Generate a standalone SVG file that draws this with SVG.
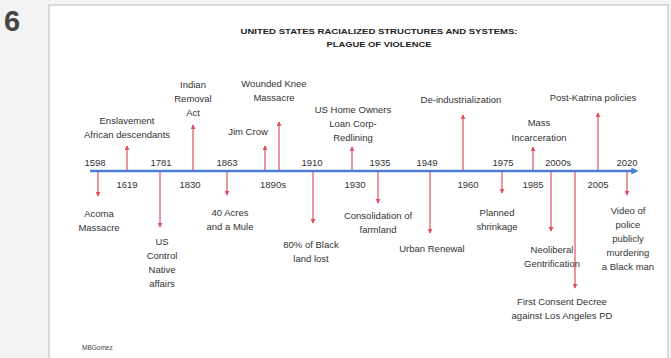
<svg xmlns="http://www.w3.org/2000/svg" width="671" height="358" viewBox="0 0 671 358">
<style>
.t{font-family:"Liberation Sans",Arial,sans-serif;font-size:9.5px;fill:#333;text-anchor:middle}
.y{font-family:"Liberation Sans",Arial,sans-serif;font-size:9.5px;fill:#333;text-anchor:middle}
.h{font-family:"Liberation Sans",Arial,sans-serif;font-size:8px;font-weight:bold;fill:#222;text-anchor:middle}
.r{stroke:#e0505f;stroke-width:1.2;fill:none;marker-end:url(#ra)}
</style>
<defs>
<marker id="ra" viewBox="0 0 6 6" refX="5" refY="3" markerWidth="5" markerHeight="5" orient="auto" markerUnits="userSpaceOnUse"><path d="M0,0 L6,3 L0,6 z" fill="#e0505f"/></marker>
<marker id="ba" viewBox="0 0 6 6" refX="4" refY="3" markerWidth="7" markerHeight="7" orient="auto" markerUnits="userSpaceOnUse"><path d="M0,0 L6,3 L0,6 z" fill="#4a7fd4"/></marker>
</defs>
<rect width="671" height="358" fill="#f3f3f3"/>
<rect x="49" y="5" width="619" height="360" fill="#ffffff" stroke="#cfcfcf" stroke-width="1.5"/>
<text x="4" y="31" font-family="Liberation Sans,Arial,sans-serif" font-size="29" font-weight="bold" fill="#444">6</text>
<g id="title">
<text class="h" x="379" y="34" textLength="277" lengthAdjust="spacingAndGlyphs">UNITED STATES RACIALIZED STRUCTURES AND SYSTEMS:</text>
<text class="h" x="379" y="47" textLength="105" lengthAdjust="spacingAndGlyphs">PLAGUE OF VIOLENCE</text>
</g>
<g id="connectors">
<line x1="90" y1="171" x2="636" y2="171" stroke="#4a7fd4" stroke-width="2.5" marker-end="url(#ba)"/>
<line class="r" x1="98" y1="172" x2="98" y2="196"/>
<line class="r" x1="127" y1="170" x2="127" y2="146"/>
<line class="r" x1="160" y1="172" x2="160" y2="227"/>
<line class="r" x1="193" y1="170" x2="193" y2="125"/>
<line class="r" x1="227" y1="172" x2="227" y2="195"/>
<line class="r" x1="265" y1="170" x2="265" y2="146"/>
<line class="r" x1="279" y1="170" x2="279" y2="122"/>
<line class="r" x1="313" y1="172" x2="313" y2="223"/>
<line class="r" x1="352" y1="170" x2="352" y2="147"/>
<line class="r" x1="378" y1="172" x2="378" y2="203"/>
<line class="r" x1="430" y1="172" x2="430" y2="233"/>
<line class="r" x1="463" y1="170" x2="463" y2="115"/>
<line class="r" x1="502" y1="172" x2="502" y2="193"/>
<line class="r" x1="533" y1="170" x2="533" y2="147"/>
<line class="r" x1="551" y1="172" x2="551" y2="231"/>
<line class="r" x1="575" y1="172" x2="575" y2="288"/>
<line class="r" x1="598" y1="170" x2="598" y2="113"/>
<line class="r" x1="627" y1="172" x2="627" y2="195"/>
</g>
<g id="years">
<text class="y" x="95" y="166">1598</text>
<text class="y" x="161" y="166">1781</text>
<text class="y" x="227" y="166">1863</text>
<text class="y" x="312" y="166">1910</text>
<text class="y" x="380" y="166">1935</text>
<text class="y" x="427" y="166">1949</text>
<text class="y" x="503" y="166">1975</text>
<text class="y" x="558" y="166">2000s</text>
<text class="y" x="627" y="166">2020</text>
<text class="y" x="127" y="188">1619</text>
<text class="y" x="190" y="188">1830</text>
<text class="y" x="273" y="188">1890s</text>
<text class="y" x="355" y="188">1930</text>
<text class="y" x="468" y="188">1960</text>
<text class="y" x="533" y="188">1985</text>
<text class="y" x="598" y="188">2005</text>
</g>
<g id="acoma"><text class="t" x="99" y="217">Acoma</text><text class="t" x="99" y="231">Massacre</text></g>
<g id="enslavement"><text class="t" x="127" y="124">Enslavement</text><text class="t" x="127" y="138">African descendants</text></g>
<g id="uscontrol"><text class="t" x="162" y="245">US</text><text class="t" x="162" y="259">Control</text><text class="t" x="162" y="273">Native</text><text class="t" x="162" y="287">affairs</text></g>
<g id="indianremoval"><text class="t" x="193" y="88">Indian</text><text class="t" x="193" y="102">Removal</text><text class="t" x="193" y="116">Act</text></g>
<g id="fortyacres"><text class="t" x="230" y="216">40 Acres</text><text class="t" x="230" y="230">and a Mule</text></g>
<g id="jimcrow"><text class="t" x="248" y="135">Jim Crow</text></g>
<g id="woundedknee"><text class="t" x="274" y="87">Wounded Knee</text><text class="t" x="274" y="101">Massacre</text></g>
<g id="landlost"><text class="t" x="311" y="248">80% of Black</text><text class="t" x="311" y="262">land lost</text></g>
<g id="redlining"><text class="t" x="353" y="113">US Home Owners</text><text class="t" x="353" y="127">Loan Corp-</text><text class="t" x="353" y="141">Redlining</text></g>
<g id="farmland"><text class="t" x="378" y="219">Consolidation of</text><text class="t" x="378" y="233">farmland</text></g>
<g id="urbanrenewal"><text class="t" x="432" y="252">Urban Renewal</text></g>
<g id="deindustrialization"><text class="t" x="461" y="103">De-industrialization</text></g>
<g id="planned"><text class="t" x="497" y="216">Planned</text><text class="t" x="497" y="230">shrinkage</text></g>
<g id="mass"><text class="t" x="539" y="126">Mass</text><text class="t" x="539" y="141">Incarceration</text></g>
<g id="neoliberal"><text class="t" x="552" y="253">Neoliberal</text><text class="t" x="552" y="267">Gentrification</text></g>
<g id="consent"><text class="t" x="562" y="305">First Consent Decree</text><text class="t" x="562" y="319">against Los Angeles PD</text></g>
<g id="katrina"><text class="t" x="593" y="101">Post-Katrina policies</text></g>
<g id="video"><text class="t" x="628" y="214">Video of</text><text class="t" x="628" y="228">police</text><text class="t" x="628" y="242">publicly</text><text class="t" x="628" y="256">murdering</text><text class="t" x="628" y="270">a Black man</text></g>
<text x="82" y="350" font-family="Liberation Sans,Arial,sans-serif" font-size="6.5" fill="#444">MBGomez</text>
</svg>
